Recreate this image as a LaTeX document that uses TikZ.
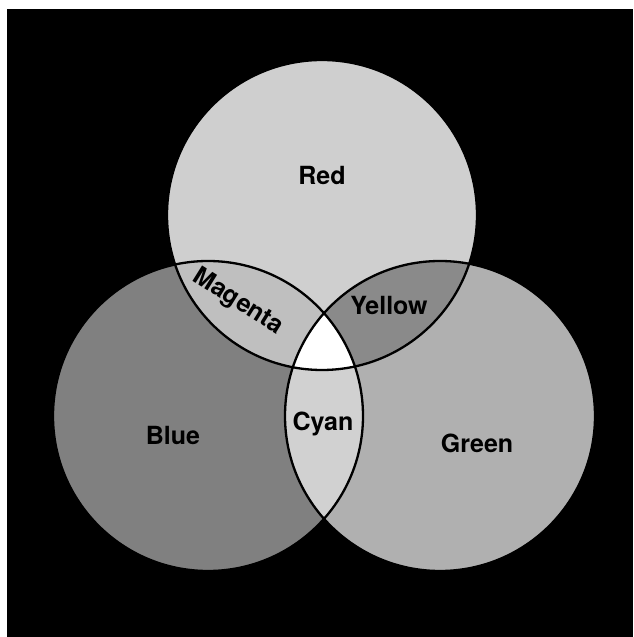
\documentclass[tikz,border=0pt]{standalone}
\usepackage{fontspec}
\setsansfont{TeX Gyre Heros}
\usepackage{tikz}
\usepackage{xcolor}

\definecolor{redfill}{gray}{0.81}
\definecolor{bluefill}{gray}{0.50}
\definecolor{greenfill}{gray}{0.69}
\definecolor{magentafill}{gray}{0.75}
\definecolor{yellowfill}{gray}{0.54}
\definecolor{cyanfill}{gray}{0.82}

\begin{document}
\begin{tikzpicture}[x=1pt, y=1pt,
  lbl/.style={font=\sffamily\bfseries\fontsize{25}{28}\selectfont, inner sep=0pt}]
\useasboundingbox (0,0) rectangle (633,637);
\fill[black] (7,0) rectangle (633,628);

% the three primaries
\def\rad{155}
\coordinate (R) at (322,422);
\coordinate (B) at (208,221);
\coordinate (G) at (440,221);

\fill[redfill]   (R) circle (\rad);
\fill[bluefill]  (B) circle (\rad);
\fill[greenfill] (G) circle (\rad);

% pairwise overlaps
\begin{scope}
  \clip (R) circle (\rad);
  \fill[magentafill] (B) circle (\rad);
  \fill[yellowfill]  (G) circle (\rad);
\end{scope}
\begin{scope}
  \clip (B) circle (\rad);
  \fill[cyanfill] (G) circle (\rad);
\end{scope}

% all three together
\begin{scope}
  \clip (R) circle (\rad);
  \clip (B) circle (\rad);
  \fill[white] (G) circle (\rad);
\end{scope}

\foreach \c in {R, B, G}
  \draw[line width=2.3pt] (\c) circle (\rad);

% labels
\node[lbl] (red)     at (322,461) {Red};
\node[lbl] (blue)    at (173,201) {Blue};
\node[lbl] (green)   at (477,194) {Green};
\node[lbl] (yellow)  at (389,331) {Yellow};
\node[lbl] (cyan)    at (323,213) {Cyan};
\node[lbl, rotate=-32] (magenta) at (238,335) {Magenta};
\end{tikzpicture}
\end{document}
